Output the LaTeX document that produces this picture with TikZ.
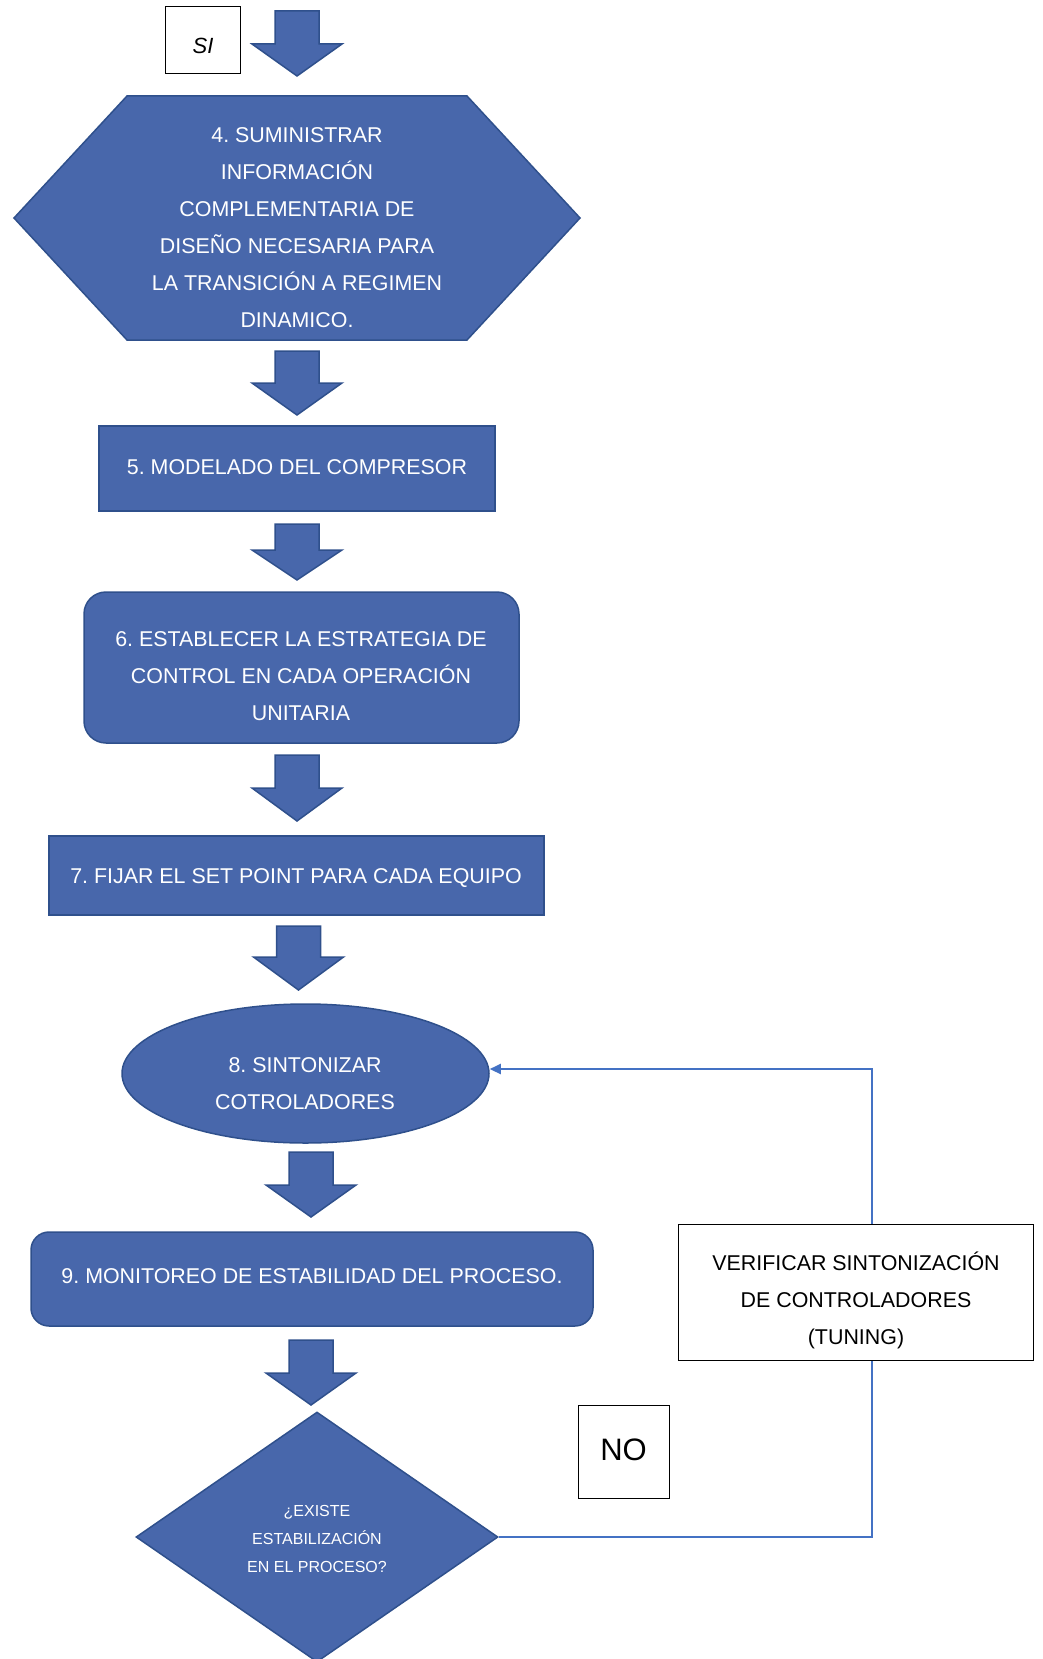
\documentclass[tikz,border=0pt]{standalone}
\usepackage{fontspec}
\setmainfont{Liberation Sans}
\usetikzlibrary{shapes.geometric,arrows.meta,calc}
\definecolor{shapefill}{RGB}{72,103,171}
\definecolor{shapeline}{RGB}{47,80,140}
\definecolor{linkblue}{RGB}{68,114,196}
\newcommand\blkarrow[4]{\draw[blockshape] (#1-22,#2) -- (#1+22,#2) -- (#1+22,#3) -- (#1+45,#3) -- (#1,#4) -- (#1-45,#3) -- (#1-22,#3) -- cycle;}
\frenchspacing
\begin{document}
\begin{tikzpicture}[x=1pt,y=-1pt,
  blockshape/.style={fill=shapefill,draw=shapeline,line width=1.5pt},
  wtxt/.style={text=white,font=\fontsize{21.4}{37}\selectfont,align=center,inner sep=0pt,text height=15pt,text depth=0pt},
  btxt/.style={text=black,font=\fontsize{21.4}{37}\selectfont,align=center,inner sep=0pt,text height=15pt,text depth=0pt},
  smalltxt/.style={text=white,font=\fontsize{16}{28}\selectfont,align=center,inner sep=0pt,text height=67.5pt,text depth=0pt},
  plainbox/.style={draw=black,fill=white,line width=1pt,rectangle,inner sep=0pt},
  link/.style={draw=linkblue,line width=2.2pt},
]
\useasboundingbox (0,0) rectangle (1042,1659);

% SI label
\node[plainbox,minimum width=75,minimum height=67] (sibox) at (202.5,40.5) {};
\node[btxt,font=\fontsize{22}{37}\selectfont\itshape] (sitxt) at (203,46.5) {SI};
\blkarrow{297}{11}{44}{76}

% 4 hexagon
\draw[blockshape] (14,218) -- (127,96) -- (467,96) -- (580,218) -- (467,340) -- (127,340) -- cycle;
\coordinate (hex) at (297,218);
\node[wtxt,text height=200pt] (t4) at (297,227) {4. SUMINISTRAR\\INFORMACIÓN\\COMPLEMENTARIA DE\\DISEÑO NECESARIA PARA\\LA TRANSICIÓN A REGIMEN\\DINAMICO.};
\blkarrow{297}{351}{383}{415}

% 5
\node[blockshape,rectangle,minimum width=396,minimum height=85,inner sep=0pt] (b5) at (297,468.5) {};
\node[wtxt] (t5) at (297,466.5) {5. MODELADO DEL COMPRESOR};
\blkarrow{297}{524}{550}{580}

% 6
\node[blockshape,rectangle,rounded corners=22,minimum width=435,minimum height=151,inner sep=0pt] (b6) at (301.5,667.5) {};
\node[wtxt,text height=89pt] (t6) at (301,676) {6. ESTABLECER LA ESTRATEGIA DE\\CONTROL EN CADA OPERACIÓN\\UNITARIA};
\blkarrow{297}{755}{788}{821}

% 7
\node[blockshape,rectangle,minimum width=495,minimum height=79,inner sep=0pt] (b7) at (296.5,875.5) {};
\node[wtxt] (t7) at (296,876) {7. FIJAR EL SET POINT PARA CADA EQUIPO};
\blkarrow{298.5}{926}{957}{990}

% 8 ellipse
\node[blockshape,ellipse,minimum width=367,minimum height=139,inner sep=0pt] (e8) at (305.5,1073.5) {};
\node[wtxt,text height=52pt] (t8) at (305,1083) {8. SINTONIZAR\\COTROLADORES};
\blkarrow{311}{1152}{1185}{1217}

% 9
\node[blockshape,rectangle,rounded corners=18,minimum width=562,minimum height=94,inner sep=0pt] (b9) at (312,1279) {};
\node[wtxt] (t9) at (312,1276) {9. MONITOREO DE ESTABILIDAD DEL PROCESO.};
\blkarrow{311}{1340}{1373}{1405}

% decision
\node[blockshape,diamond,minimum width=362,minimum height=250,inner sep=0pt] (dia) at (317,1537) {};
\node[smalltxt] (tq) at (317,1539) {¿EXISTE\\ESTABILIZACIÓN\\EN EL PROCESO?};

% NO label
\node[plainbox,minimum width=91,minimum height=93] (nobox) at (623.5,1451.5) {};
\node[btxt,font=\fontsize{31}{37}\selectfont,text height=22pt] (notxt) at (623.5,1449) {NO};

% verify box
\node[plainbox,minimum width=355,minimum height=136] (vbox) at (855.5,1292) {};
\node[btxt,text height=89pt] (tv) at (856,1300) {VERIFICAR SINTONIZACIÓN\\DE CONTROLADORES\\(TUNING)};

% feedback
\coordinate (fbx) at (872,1292);
\draw[link] (dia.east) -- (dia.east -| fbx) -- (fbx |- vbox.south);
\draw[link,-{Triangle[length=11pt,width=10pt]}] (fbx |- vbox.north) -- (fbx |- 0,1069) -- (e8.east |- 0,1069);
\end{tikzpicture}
\end{document}
